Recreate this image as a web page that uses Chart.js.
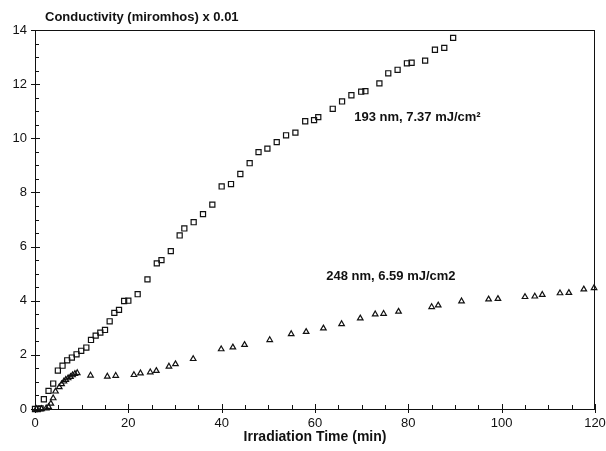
<!DOCTYPE html>
<html>
<head>
<meta charset="utf-8">
<script src="https://cdn.jsdelivr.net/npm/chart.js@4"></script>
<style>
  html, body { margin: 0; padding: 0; background: #fff; }
  #wrap { width: 606px; height: 451px; position: relative; }
</style>
</head>
<body>
<div id="wrap"><canvas id="conductivityChart"></canvas></div>
<script>
// 193 nm, 7.37 mJ/cm2 (squares)
const time193 = [0, 0.6, 1.2, 1.9, 2.9, 3.9, 4.9, 5.9, 6.9, 7.9, 8.9, 9.9, 11.0, 12.0, 13.0, 14.0, 15.0,
    16.0, 17.0, 18.0, 19.1, 20.0, 22.0, 24.1, 26.1, 27.1, 29.1, 31.0, 32.0, 34.0, 36.0, 38.0, 40.0,
    42.0, 44.0, 46.0, 47.9, 49.8, 51.8, 53.8, 55.8, 57.9, 59.8, 60.7, 63.8, 65.8, 67.8, 69.9, 70.8,
    73.8, 75.7, 77.7, 79.7, 80.7, 83.6, 85.7, 87.7, 89.6];
const cond193 = [0, 0, 0.02, 0.36, 0.67, 0.94, 1.42, 1.6, 1.8, 1.9, 2.02, 2.15, 2.27, 2.55, 2.71, 2.82, 2.92,
    3.24, 3.55, 3.66, 3.99, 4.0, 4.24, 4.79, 5.38, 5.5, 5.83, 6.41, 6.67, 6.9, 7.2, 7.55, 8.22,
    8.31, 8.68, 9.08, 9.49, 9.62, 9.86, 10.11, 10.21, 10.63, 10.67, 10.78, 11.09, 11.36, 11.59, 11.72, 11.74,
    12.03, 12.4, 12.53, 12.77, 12.79, 12.87, 13.27, 13.34, 13.71];

// 248 nm, 6.59 mJ/cm2 (triangles)
const time248 = [0.3, 1.4, 2.4, 2.9, 3.4, 3.9, 4.4, 5.2, 5.7, 6.2, 6.6, 7.1, 7.6, 8.05, 8.55, 9.05,
    11.9, 15.5, 17.3, 21.2, 22.6, 24.7, 26.0, 28.7, 30.1, 33.9, 39.9, 42.4, 44.9, 50.3, 54.9, 58.1,
    61.8, 65.7, 69.7, 72.9, 74.7, 77.9, 85.0, 86.4, 91.4, 97.2, 99.2, 105.0, 107.1, 108.7, 112.5,
    114.4, 117.6, 119.8];
const cond248 = [0, 0, 0.03, 0.08, 0.2, 0.4, 0.65, 0.81, 0.92, 1.02, 1.08, 1.14, 1.19, 1.25, 1.3, 1.33,
    1.24, 1.2, 1.23, 1.26, 1.32, 1.36, 1.41, 1.57, 1.66, 1.85, 2.21, 2.28, 2.37, 2.55, 2.77, 2.85,
    2.98, 3.14, 3.35, 3.5, 3.52, 3.6, 3.77, 3.83, 3.98, 4.05, 4.07, 4.14, 4.16, 4.22, 4.28,
    4.29, 4.42, 4.47];

const chartTitle = 'Conductivity (miromhos) x 0.01';
const xTitle = 'Irradiation Time (min)';
const label193 = '193 nm, 7.37 mJ/cm\u00b2';
const label248 = '248 nm, 6.59 mJ/cm2';

const ink = '#111';
const font = 'Liberation Sans, Arial, Helvetica, sans-serif';

const toPoints = (xs, ys) => xs.map((x, i) => ({ x: x, y: ys[i] }));

// Cadre, graduations vers l'intérieur et textes
const framePlugin = {
    id: 'frame',
    afterDraw(chart) {
        const { ctx, chartArea: a, scales: { x, y } } = chart;
        ctx.save();
        ctx.strokeStyle = ink;
        ctx.lineWidth = 1;
        ctx.strokeRect(Math.round(a.left) + 0.5, Math.round(a.top) + 0.5,
            Math.round(a.width) - 1, Math.round(a.height));

        ctx.beginPath();
        for (let v = 0; v <= 120; v += 5) {
            const px = Math.round(x.getPixelForValue(v)) + 0.5;
            const major = v % 20 === 0;
            ctx.moveTo(px, a.bottom + (major ? 4 : 0));
            ctx.lineTo(px, a.bottom - (major ? 5 : 4));
        }
        for (let v = 0; v <= 14; v += 0.5) {
            const py = Math.round(y.getPixelForValue(v)) + 0.5;
            const major = v % 2 === 0;
            ctx.moveTo(a.left - (major ? 4 : 0), py);
            ctx.lineTo(a.left + (major ? 5 : 4), py);
        }
        ctx.stroke();

        ctx.fillStyle = ink;
        ctx.textBaseline = 'middle';
        ctx.textAlign = 'left';
        ctx.font = 'bold 13px ' + font;
        ctx.fillText(chartTitle, 45, 17);
        ctx.fillText(label193, x.getPixelForValue(68.4), y.getPixelForValue(10.77));
        ctx.fillText(label248, x.getPixelForValue(62.4), y.getPixelForValue(4.88));
        ctx.restore();
    }
};

const ctx = document.getElementById('conductivityChart');

new Chart(ctx, {
    type: 'scatter',
    data: {
        datasets: [{
            label: '193 nm',
            data: toPoints(time193, cond193),
            pointStyle: 'rect',
            pointRadius: 3.6,
            pointBorderWidth: 1.2,
            pointBorderColor: ink,
            pointBackgroundColor: 'rgba(0,0,0,0)',
            clip: false
        }, {
            label: '248 nm',
            data: toPoints(time248, cond248),
            pointStyle: 'triangle',
            pointRadius: 3.2,
            pointBorderWidth: 1.2,
            pointBorderColor: ink,
            pointBackgroundColor: 'rgba(0,0,0,0)',
            clip: false
        }]
    },
    options: {
        responsive: true,
        maintainAspectRatio: false,
        animation: false,
        layout: { padding: { top: 30, right: 11, left: 0, bottom: 0 } },
        plugins: {
            legend: { display: false },
            tooltip: { enabled: false }
        },
        scales: {
            x: {
                type: 'linear',
                min: 0,
                max: 120,
                afterFit: s => {
                    s.height = 42;
                    s.paddingLeft = 0;
                    s.paddingRight = 0;
                },
                grid: { display: false, drawTicks: false },
                border: { display: false },
                ticks: {
                    stepSize: 20,
                    padding: 7,
                    color: ink,
                    font: { family: font, size: 13 }
                },
                title: {
                    display: true,
                    text: xTitle,
                    color: ink,
                    padding: { top: 0, bottom: 5 },
                    font: { family: font, size: 14, weight: 'bold' }
                }
            },
            y: {
                min: 0,
                max: 14,
                afterFit: s => { s.width = 35; },
                grid: { display: false, drawTicks: false },
                border: { display: false },
                ticks: {
                    stepSize: 2,
                    padding: 8,
                    color: ink,
                    font: { family: font, size: 13 }
                }
            }
        }
    },
    plugins: [framePlugin]
});
</script>
</body>
</html>
